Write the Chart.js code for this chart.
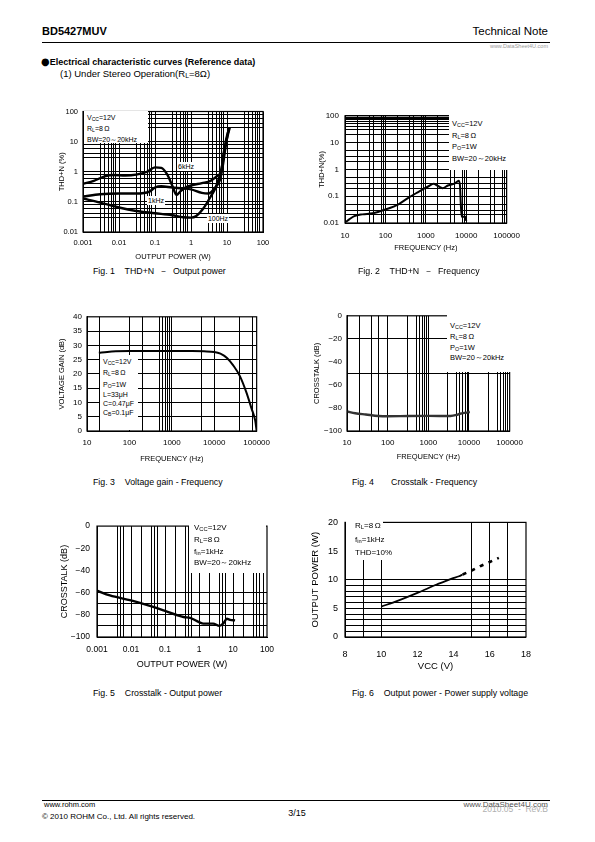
<!DOCTYPE html>
<html><head><meta charset="utf-8">
<script src="https://cdn.jsdelivr.net/npm/chart.js@4.4.1/dist/chart.umd.min.js"></script>
<style>
body{margin:0;background:#fff}
#page{position:relative;width:595px;height:842px;overflow:hidden;font-family:'Liberation Sans',Arial,sans-serif;color:#000;background:#fff}
.t{position:absolute;white-space:pre;line-height:1}
.n{font-family:'Liberation Sans Narrow','Liberation Sans',Arial,sans-serif}
.box{position:absolute;background:#fff}
.sub{font-size:72%;vertical-align:-0.2em}
.bul{font-family:'DejaVu Sans',sans-serif;font-size:110%;vertical-align:-0.05em;line-height:1}
canvas{position:absolute}
</style></head><body><div id="page"></div>
<script>
// ---------------- DATA ----------------
// Fig.1 THD+N vs output power (W -> %)
const fig1Power6k = [0.001,0.002,0.004,0.007,0.015,0.03,0.06,0.1,0.15,0.22,0.3,0.4,0.5,0.7,1,2,3.5,5.5,7,7.8,9.8,12];
const fig1Thd6k   = [0.4,0.5,0.7,0.78,0.75,0.8,1.0,1.4,1.35,0.8,0.35,0.17,0.22,0.3,0.35,0.42,0.5,0.75,1.1,3.3,11.8,30];
const fig1Power1k = [0.001,0.003,0.01,0.03,0.07,0.1,0.15,0.3,0.6,1,2,3,4.5,6.4,7.6,9,11];
const fig1Thd1k   = [0.15,0.18,0.19,0.19,0.22,0.3,0.33,0.3,0.28,0.26,0.2,0.19,0.28,0.55,1.5,6,25];
const fig1Power100 = [0.001,0.003,0.01,0.03,0.1,0.3,0.6,1,1.4,2.2,3.4,4.5,5.5,6.4,7.6,9.5,11.5];
const fig1Thd100   = [0.13,0.095,0.065,0.05,0.042,0.036,0.031,0.03,0.034,0.06,0.14,0.25,0.45,0.8,2,12,28];
// Fig.2 THD+N vs frequency
const fig2Freq = [10.5,13,17,27,48,100,210,360,630,900,1200,1550,2000,2600,3500,4500,5400,6500,7000,7300,7700,8500,9500,10000];
const fig2Thd  = [0.011,0.014,0.018,0.021,0.023,0.032,0.05,0.085,0.14,0.19,0.24,0.29,0.24,0.2,0.25,0.28,0.31,0.38,0.25,0.06,0.017,0.017,0.017,0.012];
// Fig.3 Voltage gain vs frequency
const fig3Freq = [19,30,48,100,500,1000,3000,5700,10000,14000,20000,28000,40000,57000,76000,92000,100000];
const fig3Gain = [27.4,27.7,27.9,28.0,28.0,28.0,28.0,27.9,27.7,27.1,25.6,23.0,19.3,13.6,7.8,3.8,0];
// Fig.4 Crosstalk vs frequency
const fig4Freq = [10,16,29,60,100,320,1000,3500,5000,6000,8800,10500];
const fig4Crosstalk = [-83,-84.6,-85.7,-87,-87.2,-87,-86.9,-87,-86,-85,-84,-83.5];
// Fig.5 Crosstalk vs output power
const fig5Power = [0.001,0.0024,0.01,0.036,0.1,0.35,0.55,1,1.35,2.6,4,5.3,6.6,8.2,11.5];
const fig5Crosstalk = [-58.2,-62.5,-67,-72,-76.4,-82,-82.7,-86.5,-87.9,-87.9,-90,-87.4,-83.6,-84.5,-85];
// Fig.6 Output power vs supply voltage
const fig6VccSolid = [10,10.9,12.0,13.1,13.9,14.3,14.5];
const fig6PowerSolid = [5.3,6.3,7.7,9.2,10.2,10.6,10.9];
const fig6VccDashed = [14.5,15,15.5,16,16.5];
const fig6PowerDashed = [10.9,11.6,12.4,13.1,13.8];
// Tick labels
const powerTickValues = [0.001,0.01,0.1,1,10,100];
const powerTickLabels = ['0.001','0.01','0.1','1','10','100'];
const thdTickValues = [0.01,0.1,1,10,100];
const thdTickLabels = ['0.01','0.1','1','10','100'];
const freqTickValues = [10,100,1000,10000,100000];
const freqTickLabels = ['10','100','1000','10000','100000'];
const gainTickValues = [0,5,10,15,20,25,30,35,40];
const gainTickLabels = ['0','5','10','15','20','25','30','35','40'];
const crosstalkTickValues = [0,-20,-40,-60,-80,-100];
const crosstalkTickLabels = ['0','\u221220','\u221240','\u221260','\u221280','\u2212100'];
const vccTickValues = [8,10,12,14,16,18];
const vccTickLabels = ['8','10','12','14','16','18'];
const outTickValues = [0,5,10,15,20];
const outTickLabels = ['0','5','10','15','20'];

// ---------------- HELPERS ----------------
const FONT = "'Liberation Sans', Arial, Helvetica, sans-serif";
const NARROW = "'Liberation Sans Narrow', 'Liberation Sans', Arial, sans-serif";
const page = document.getElementById('page');
const near = (a,b) => Math.abs(a-b) <= 1e-9*Math.max(Math.abs(a),Math.abs(b)) + 1e-12;
const zip = (xs, ys) => xs.map((x,i) => ({x, y: ys[i]}));
function decadeGrid(decades, mults){ const o=[]; decades.forEach(d=>mults.forEach(m=>o.push(Number((d*m).toPrecision(10))))); return o; }

const framePlugin = {id:'frame', afterDatasetsDraw(chart){
  const {ctx, chartArea:a} = chart; ctx.save(); ctx.strokeStyle='#000'; ctx.lineWidth=1.2;
  ctx.strokeRect(a.left, a.top, a.right-a.left, a.bottom-a.top); ctx.restore(); }};

function axisCfg(a, isX, s){
  const all = [...a.tickValues, ...a.grid].sort((p,q)=>p-q)
    .filter((v,i,arr)=> i===0 || !near(v,arr[i-1]))
    .filter(v => v >= a.min - 1e-12 && v <= a.max + 1e-9*Math.abs(a.max));
  return {
    type:a.type, min:a.min, max:a.max, position: isX ? 'bottom' : 'left',
    afterBuildTicks: sc => { sc.ticks = all.map(v => ({value:v})); },
    afterFit: sc => { if (isX) sc.height = s.xH; else sc.width = s.yW; },
    grid: {drawTicks:false, lineWidth:1, color: c => (c.tick && a.grid.some(g => near(g, c.tick.value))) ? '#000' : 'rgba(0,0,0,0)'},
    border: {display:true, color:'#000', width:1},
    ticks: {autoSkip:false, maxRotation:0, minRotation:0, padding:a.pad, color:'#000',
      font:{family:FONT, size:a.fs},
      callback: v => { const i = a.tickValues.findIndex(t => near(t, v)); return i < 0 ? '' : a.tickLabels[i]; }},
    title: {display:true, text:a.title, color:'#000', font:{family:a.tfam || NARROW, size:a.tfs},
      padding: isX ? {top:0, bottom:a.tpos - a.tfs*0.6} : {top:a.tpos - a.tfs*0.6, bottom:0}}
  };
}

function makeChart(s){
  const padTop = 8, padRight = 16;
  const left = s.L - s.yW, top = s.T - padTop;
  const width = s.R + padRight - left, height = s.B + s.xH - top;
  const cv = document.createElement('canvas');
  cv.width = width; cv.height = height;
  cv.style.left = left + 'px'; cv.style.top = top + 'px';
  cv.style.width = width + 'px'; cv.style.height = height + 'px';
  page.appendChild(cv);
  new Chart(cv, {type:'line', data:{datasets:s.datasets}, options:{
    responsive:false, animation:false, devicePixelRatio:1,
    layout:{padding:{top:padTop, right:padRight, left:0, bottom:0}},
    plugins:{legend:{display:false}, tooltip:{enabled:false}},
    elements:{point:{radius:0}},
    scales:{x: axisCfg(s.x, true, s), y: axisCfg(s.y, false, s)}
  }, plugins:[framePlugin]});
}
function line(data, opts){ return Object.assign({data, borderColor:'#000', borderWidth:2.2, pointRadius:0, fill:false, cubicInterpolationMode:'monotone'}, opts||{}); }

function text(x, y, html, size, extra){
  const d = document.createElement('div'); d.className = 't' + (extra && extra.cls ? ' ' + extra.cls : '');
  d.innerHTML = html; d.style.fontSize = size + 'px'; d.style.top = (y - size*0.55) + 'px';
  if (extra && extra.right !== undefined) d.style.right = extra.right + 'px'; else d.style.left = x + 'px';
  if (extra && extra.center) { d.style.left = x + 'px'; d.style.transform = 'translateX(-50%)'; }
  if (extra && extra.bold) d.style.fontWeight = 'bold';
  if (extra && extra.color) d.style.color = extra.color;
  if (extra && extra.bg) { d.style.background = '#fff'; d.style.padding = '1px 1px'; d.style.top = (y - size*0.55 - 1) + 'px'; }
  page.appendChild(d); return d;
}
function box(l, t, w, h){ const d = document.createElement('div'); d.className='box';
  d.style.left=l+'px'; d.style.top=t+'px'; d.style.width=w+'px'; d.style.height=h+'px'; page.appendChild(d); }
function hline(l, t, w, h){ const d = document.createElement('div');
  d.style.cssText = `position:absolute;left:${l}px;top:${t}px;width:${w}px;height:${h}px;background:#000`; page.appendChild(d); }

// ---------------- CHARTS ----------------
makeChart({L:83, T:110, R:263, B:232, yW:33, xH:33,
  x:{type:'logarithmic', min:0.001, max:100, tickValues:powerTickValues, tickLabels:powerTickLabels,
     grid:[...decadeGrid([0.001,0.01,0.1,1,10],[1,3,4,5,6,7,8]),100], pad:6, fs:7.5, title:'OUTPUT POWER (W)', tfs:7.5, tpos:8},
  y:{type:'logarithmic', min:0.01, max:100, tickValues:thdTickValues, tickLabels:thdTickLabels,
     grid:[...decadeGrid([0.01,0.1,1,10],[1,3,4,6,8]),100], pad:5, fs:7.5, title:'THD+N (%)', tfs:7.5, tpos:12},
  datasets:[line(zip(fig1Power6k, fig1Thd6k), {borderWidth:2.4}), line(zip(fig1Power1k, fig1Thd1k), {borderWidth:2.4}), line(zip(fig1Power100, fig1Thd100), {borderWidth:2.4})]
});
makeChart({L:345, T:113, R:512, B:223, yW:33, xH:33,
  x:{type:'logarithmic', min:10, max:100000, tickValues:freqTickValues, tickLabels:freqTickLabels,
     grid:[...decadeGrid([10,100,1000,10000],[1,2,4,5,8,9]),100000], pad:8, fs:8, title:'FREQUENCY (Hz)', tfs:7.5, tpos:8},
  y:{type:'logarithmic', min:0.01, max:100, tickValues:thdTickValues, tickLabels:thdTickLabels,
     grid:[...decadeGrid([0.01,0.1,1],[1,2,3,5]),...decadeGrid([10],[1,2,3,4,5,6,7,8,9]),100], pad:6, fs:8, title:'THD+N(%)', tfs:7.5, tpos:10},
  datasets:[line(zip(fig2Freq, fig2Thd), {borderWidth:2})]
});
makeChart({L:87, T:315, R:261, B:431, yW:33, xH:35,
  x:{type:'logarithmic', min:10, max:100000, tickValues:freqTickValues, tickLabels:freqTickLabels,
     grid:[20,100,200,500,600,700,800,900,1000,5000,10000,40000,80000], pad:7, fs:8, title:'FREQUENCY (Hz)', tfs:7.5, tpos:7},
  y:{type:'linear', min:0, max:40, tickValues:gainTickValues, tickLabels:gainTickLabels,
     grid:[5,10,15,20,25,30,35], pad:5, fs:8, title:'VOLTAGE GAIN (dB)', tfs:7.5, tpos:8},
  datasets:[line(zip(fig3Freq, fig3Gain), {borderWidth:2})]
});
makeChart({L:347, T:314, R:514, B:431, yW:36, xH:33,
  x:{type:'logarithmic', min:10, max:100000, tickValues:freqTickValues, tickLabels:freqTickLabels,
     grid:[20,40,60,100,300,500,600,700,800,900,1000,3000,5000,6000,7000,8000,9000,10000,30000,50000,60000,70000,80000,90000], pad:7, fs:8, title:'FREQUENCY (Hz)', tfs:7.5, tpos:7},
  y:{type:'linear', min:-100, max:0, tickValues:crosstalkTickValues, tickLabels:crosstalkTickLabels,
     grid:[-20,-50], pad:5, fs:8, title:'CROSSTALK (dB)', tfs:7.5, tpos:6},
  datasets:[line(zip(fig4Freq, fig4Crosstalk), {borderWidth:2.4, borderColor:'#333'})]
});
makeChart({L:97, T:522, R:267, B:637, yW:40, xH:36,
  x:{type:'logarithmic', min:0.001, max:100, tickValues:powerTickValues, tickLabels:powerTickLabels,
     grid:[0.004,0.005,0.006,...decadeGrid([0.01,0.1,1],[1,2,4,5,6]),10,20,40,50,60,80], pad:8, fs:8.5, title:'OUTPUT POWER (W)', tfs:9, tfam:FONT, tpos:8},
  y:{type:'linear', min:-100, max:0, tickValues:crosstalkTickValues, tickLabels:crosstalkTickLabels,
     grid:[-60,-70,-80,-90], pad:7, fs:8.5, title:'CROSSTALK (dB)', tfs:9, tfam:FONT, tpos:8},
  datasets:[line(zip(fig5Power, fig5Crosstalk), {borderWidth:2.4})]
});
makeChart({L:345, T:518, R:527, B:637, yW:40, xH:37,
  x:{type:'linear', min:8, max:18, tickValues:vccTickValues, tickLabels:vccTickLabels,
     grid:[9,10,15,16,17], pad:12, fs:9, title:'VCC (V)', tfs:9.5, tfam:FONT, tpos:8},
  y:{type:'linear', min:0, max:20, tickValues:outTickValues, tickLabels:outTickLabels,
     grid:[1,2,3,4,5,6,7,8,9,10], pad:7, fs:9, title:'OUTPUT POWER (W)', tfs:9.5, tfam:FONT, tpos:10},
  datasets:[line(zip(fig6VccSolid, fig6PowerSolid), {borderWidth:1.8}),
            line(zip(fig6VccDashed, fig6PowerDashed), {borderWidth:2.6, borderDash:[4,5.5], cubicInterpolationMode:'default', tension:0})]
});

// ---------------- ANNOTATIONS ----------------
box(84, 111, 64, 32);
text(87, 118, 'V<span class="sub">CC</span>=12V', 7, {cls:'n'});
text(87, 129, 'R<span class="sub">L</span>=8\u2009\u03a9', 7, {cls:'n'});
text(87, 140, 'BW=20\uff5e20kHz', 7, {cls:'n'});
text(186, 167, '6kHz', 7, {cls:'n', center:true, bg:true});
text(156, 201, '1kHz', 7, {cls:'n', center:true, bg:true});
text(218, 219, '100Hz', 7, {cls:'n', center:true, bg:true});

box(449, 114, 62, 56);
text(452, 124, 'V<span class="sub">CC</span>=12V', 7.5, {cls:'n'});
text(452, 136, 'R<span class="sub">L</span>=8\u2009\u03a9', 7.5, {cls:'n'});
text(452, 147, 'P<span class="sub">O</span>=1W', 7.5, {cls:'n'});
text(452, 159, 'BW=20\uff5e20kHz', 7.5, {cls:'n'});

box(100, 355, 38, 75);
text(103, 362, 'V<span class="sub">CC</span>=12V', 7, {cls:'n'});
text(103, 373, 'R<span class="sub">L</span>=8\u2009\u03a9', 7, {cls:'n'});
text(103, 385, 'P<span class="sub">O</span>=1W', 7, {cls:'n'});
text(103, 395, 'L=33\u03bcH', 7, {cls:'n'});
text(103, 404, 'C=0.47\u03bcF', 7, {cls:'n'});
text(103, 413, 'C<span class="sub">B</span>=0.1\u03bcF', 7, {cls:'n'});

box(447, 315, 66, 57);
text(450, 326, 'V<span class="sub">CC</span>=12V', 7.5, {cls:'n'});
text(450, 337, 'R<span class="sub">L</span>=8\u2009\u03a9', 7.5, {cls:'n'});
text(450, 348, 'P<span class="sub">O</span>=1W', 7.5, {cls:'n'});
text(450, 358, 'BW=20\uff5e20kHz', 7.5, {cls:'n'});

box(189, 523, 77, 50);
text(194, 528, 'V<span class="sub">CC</span>=12V', 8, {cls:'n'});
text(194, 540, 'R<span class="sub">L</span>=8\u2009\u03a9', 8, {cls:'n'});
text(194, 552, 'f<span class="sub">in</span>=1kHz', 8, {cls:'n'});
text(194, 563, 'BW=20\uff5e20kHz', 8, {cls:'n'});

box(346, 519, 37, 41);
text(355, 526, 'R<span class="sub">L</span>=8\u2009\u03a9', 8, {cls:'n'});
text(355, 540, 'f<span class="sub">in</span>=1kHz', 8, {cls:'n'});
text(355, 553, 'THD=10%', 8, {cls:'n'});

// ---------------- PAGE TEXT ----------------
text(42, 32, 'BD5427MUV', 11, {bold:true});
text(0, 32, 'Technical Note', 11.5, {right:47});
hline(42, 42, 508, 1);
text(0, 47.5, 'www.DataSheet4U.com', 5.5, {right:47, color:'#9a9a9a'});
text(41, 62, '<span class="bul">\u25cf</span>Electrical characteristic curves (Reference data)', 9, {bold:true});
text(60, 74, '(1) Under Stereo Operation(R<span class="sub">L</span>=8\u03a9)', 9.5);

text(93, 272, 'Fig. 1    THD+N  \uff0d  Output power', 8.8);
text(358, 272, 'Fig. 2    THD+N  \uff0d  Frequency', 8.8);
text(93, 483, 'Fig. 3    Voltage gain - Frequency', 8.8);
text(352, 483, 'Fig. 4       Crosstalk - Frequency', 8.8);
text(93, 694, 'Fig. 5    Crosstalk - Output power', 8.8);
text(352, 694, 'Fig. 6    Output power - Power supply voltage', 8.8);

hline(42, 800, 508, 1);
text(44, 805, 'www.rohm.com', 7.5);
text(42, 817, '\u00a9 2010 ROHM Co., Ltd. All rights reserved.', 8);
text(297, 814, '3/15', 9, {center:true});
text(0, 810, '2010.05  -  Rev.B', 8.5, {right:47, color:'#b0b0b0'});
text(0, 805, 'www.DataSheet4U.com', 8, {right:47, color:'#555'});
</script></body></html>
